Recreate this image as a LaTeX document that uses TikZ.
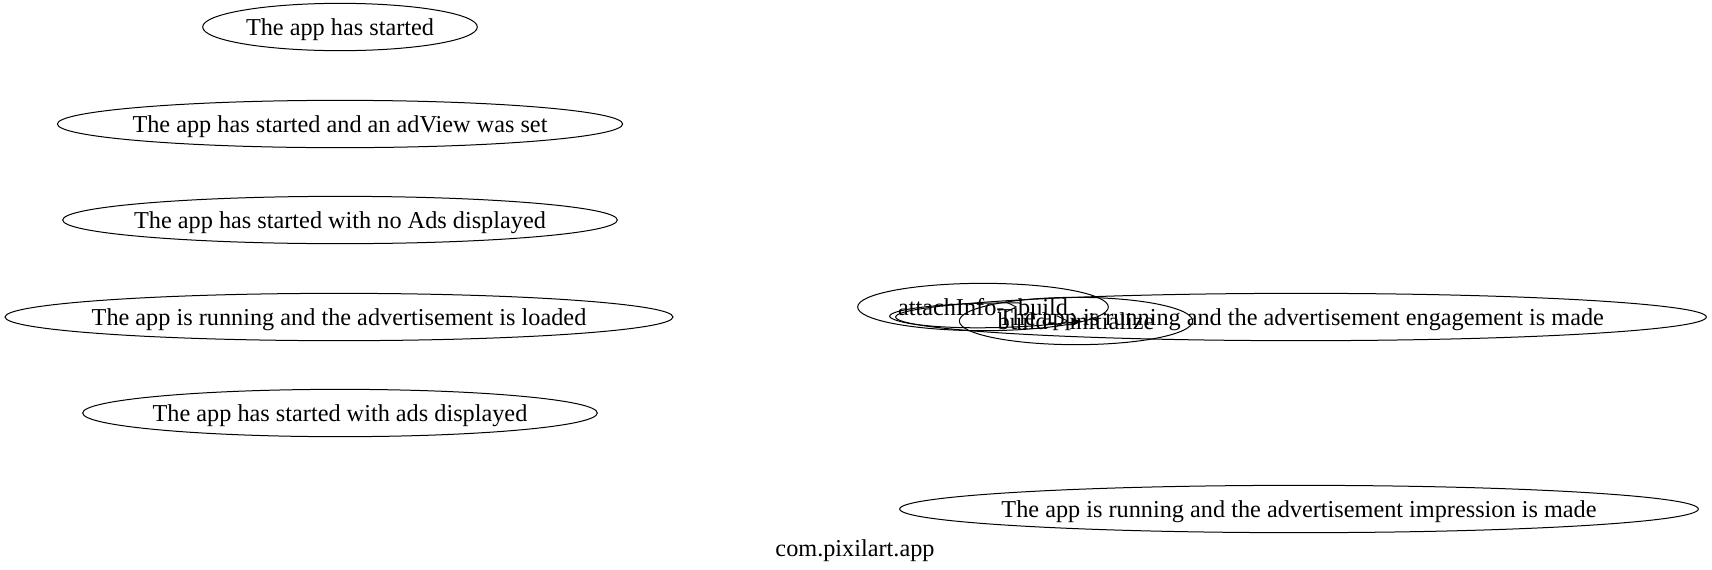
\documentclass[tikz,border=0pt]{standalone}
\usepackage{fontspec}
\setmainfont{Liberation Serif}
\usepackage{tikz}
\usetikzlibrary{arrows.meta, shapes.geometric}

\newcommand{\statetext}[1]{\makebox[0pt]{\smash{\raisebox{-6.5pt}{#1}}}}

\begin{document}
\begin{tikzpicture}[x=0.75pt, y=-0.75pt,
    every node/.style={font=\fontsize{18.2}{22}\selectfont},
    state/.style={
        ellipse, draw=black, line width=0.75pt, inner sep=0pt,
        minimum height=35.5pt, minimum width=#1,
    },
    edge/.style={
        draw=black, line width=0.75pt,
        -{Triangle[length=7.5pt, width=5.5pt]},
    },
]

\useasboundingbox (0,0) rectangle (1712,569);

\def\colA{340}
\def\colB{1300}

% ── Column: start states ───────────────────────────────────────────────
\node[state=206pt] (started)    at (\colA, 27)  {\statetext{The app has started}};
\node[state=424pt] (adview)     at (\colA, 124) {\statetext{The app has started and an adView was set}};
\node[state=416pt] (noads)      at (\colA, 220) {\statetext{The app has started with no Ads displayed}};
\node[state=501pt] (loaded)     at (339, 317)   {\statetext{The app is running and the advertisement is loaded}};
\node[state=386pt] (withads)    at (\colA, 413) {\statetext{The app has started with ads displayed}};

% ── Column: running states ─────────────────────────────────────────────
\node[state=608pt] (engagement) at (1301, 317)  {\statetext{The app is running and the advertisement engagement is made}};
\node[state=599pt] (impression) at (1299, 509)  {\statetext{The app is running and the advertisement impression is made}};

% ── Calls ──────────────────────────────────────────────────────────────
\node[state=188pt] (attach)     at (983, 307)   {\statetext{attachInfo->build}};
\node[state=175pt] (init)       at (1076, 321)  {\statetext{build->initialize}};

\draw[edge] ([shift={(37,-4)}]attach.center)
    .. controls (930,302) and (875,312) .. (893,319)
    .. controls (915,329) and (1000,331) .. ([shift={(6,0)}]init.center);

% ── Graph label ────────────────────────────────────────────────────────
\node (graphlabel) at (855, 551) {com.pixilart.app};

\end{tikzpicture}
\end{document}
